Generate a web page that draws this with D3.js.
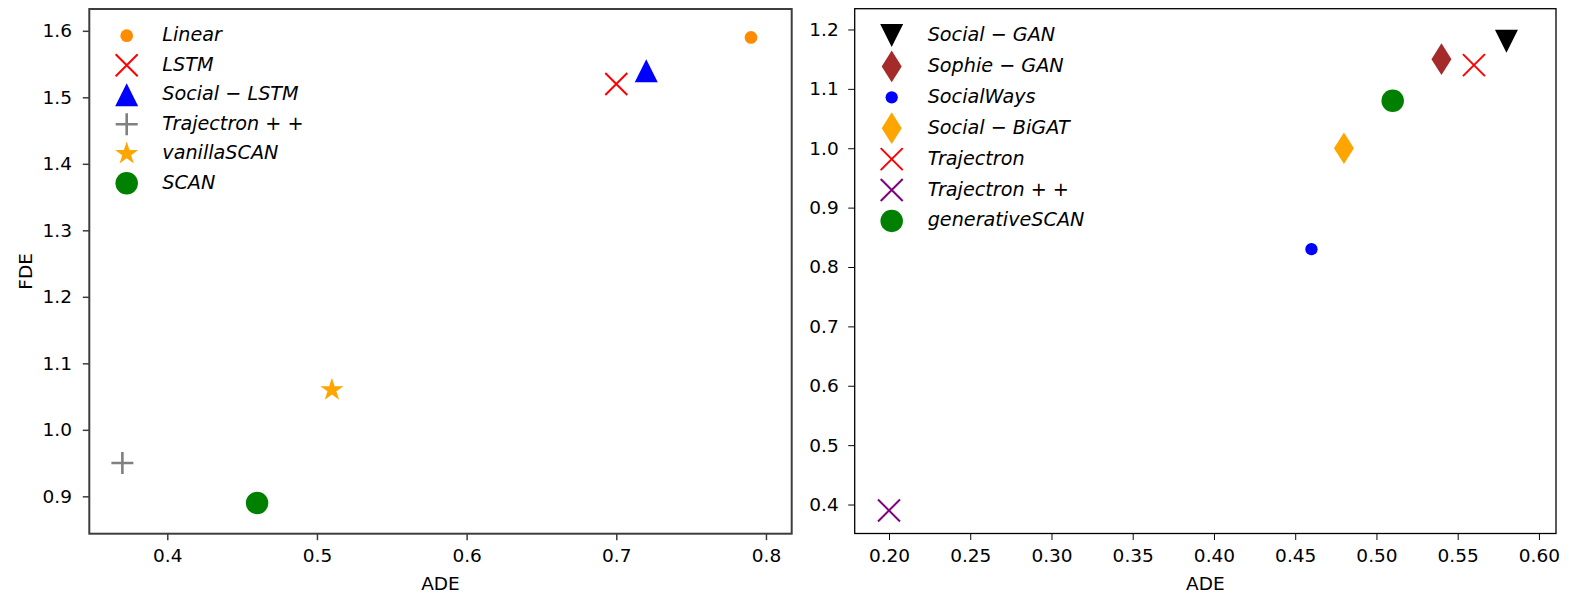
<!DOCTYPE html>
<html><head><meta charset="utf-8">
<script src="https://cdn.jsdelivr.net/npm/d3@7"></script>
<style>
body{margin:0;background:#fff}
svg{display:block}
text{font-family:"DejaVu Sans",sans-serif}
</style>
</head><body>
<svg id="c" width="1590" height="596"></svg>
<script>
// ---------- data ----------
const leftNames = ["Linear", "LSTM", "Social \u2212 LSTM", "Trajectron + +", "vanillaSCAN", "SCAN"];
const leftADE   = [0.79, 0.70, 0.72, 0.37, 0.51, 0.46];
const leftFDE   = [1.59, 1.52, 1.54, 0.95, 1.06, 0.89];

const rightNames = ["Social \u2212 GAN", "Sophie \u2212 GAN", "SocialWays", "Social \u2212 BiGAT", "Trajectron", "Trajectron + +", "generativeSCAN"];
const rightADE   = [0.58, 0.54, 0.46, 0.48, 0.56, 0.20, 0.51];
const rightFDE   = [1.18, 1.15, 0.83, 1.00, 1.14, 0.39, 1.08];

const leftXTicks  = [0.4, 0.5, 0.6, 0.7, 0.8];
const leftYTicks  = [0.9, 1.0, 1.1, 1.2, 1.3, 1.4, 1.5, 1.6];
const rightXTicks = [0.20, 0.25, 0.30, 0.35, 0.40, 0.45, 0.50, 0.55, 0.60];
const rightYTicks = [0.4, 0.5, 0.6, 0.7, 0.8, 0.9, 1.0, 1.1, 1.2];

const xLabel = "ADE";
const yLabel = "FDE";

// ---------- styles ----------
const leftStyles = [
  {shape:"circle",  color:"#ff8c00", w:12.7},
  {shape:"x",       color:"#ff0000", w:22},
  {shape:"triUp",   color:"#0000ff", w:23},
  {shape:"plus",    color:"#808080", w:22},
  {shape:"star",    color:"#ffa500", w:12.2},
  {shape:"circle",  color:"#008000", w:22.5}
];
const rightStyles = [
  {shape:"triDown", color:"#000000", w:23},
  {shape:"diamond", color:"#a52a2a", w:20, h:31.7},
  {shape:"circle",  color:"#0000ff", w:12.3},
  {shape:"diamond", color:"#ffa500", w:20, h:31.7},
  {shape:"x",       color:"#ff0000", w:22},
  {shape:"x",       color:"#800080", w:22},
  {shape:"circle",  color:"#008000", w:22.5}
];

const svg = d3.select("#c");

function drawMarker(g, s, cx, cy) {
  const h = s.w / 2;
  if (s.shape === "circle") {
    g.append("circle").attr("cx", cx).attr("cy", cy).attr("r", h).attr("fill", s.color);
    return;
  }
  let d, stroke = false, sw = 2;
  if (s.shape === "x") { d = `M${-h},${-h}L${h},${h}M${-h},${h}L${h},${-h}`; stroke = true; sw = 2; }
  else if (s.shape === "plus") { d = `M${-h},0L${h},0M0,${-h}L0,${h}`; stroke = true; sw = 2.6; }
  else if (s.shape === "triUp") { d = `M0,${-h}L${h},${h}L${-h},${h}Z`; }
  else if (s.shape === "triDown") { d = `M0,${h}L${h},${-h}L${-h},${-h}Z`; }
  else if (s.shape === "diamond") { const hh = s.h / 2; d = `M0,${-hh}L${h},0L0,${hh}L${-h},0Z`; }
  else if (s.shape === "star") {
    const R = s.w, r = R * 0.381966;
    const pts = [];
    for (let i = 0; i < 10; i++) {
      const a = -Math.PI / 2 + i * Math.PI / 5;
      const rad = i % 2 === 0 ? R : r;
      pts.push([rad * Math.cos(a), rad * Math.sin(a)]);
    }
    d = "M" + pts.map(p => p.join(",")).join("L") + "Z";
  }
  const p = g.append("path").attr("d", d).attr("transform", `translate(${cx},${cy})`);
  if (stroke) p.attr("fill", "none").attr("stroke", s.color).attr("stroke-width", sw);
  else p.attr("fill", s.color);
}

function panel(cfg) {
  const x = d3.scaleLinear().domain(cfg.xDom).range([cfg.left, cfg.right]);
  const y = d3.scaleLinear().domain(cfg.yDom).range([cfg.bottom, cfg.top]);
  const g = svg.append("g");

  // points
  const pg = g.append("g");
  cfg.ade.forEach((v, i) => drawMarker(pg, cfg.styles[i], x(v), y(cfg.fde[i])));

  // axes
  const xa = g.append("g").attr("transform", `translate(0,${cfg.bottom})`)
    .call(d3.axisBottom(x).tickValues(cfg.xTicks).tickFormat(d3.format(cfg.xFmt))
      .tickSizeInner(6.5).tickSizeOuter(0).tickPadding(8.8));
  const ya = g.append("g").attr("transform", `translate(${cfg.left},0)`)
    .call(d3.axisLeft(y).tickValues(cfg.yTicks).tickFormat(d3.format(".1f"))
      .tickSizeInner(6.5).tickSizeOuter(0).tickPadding(cfg.yPad));
  [xa, ya].forEach(a => {
    a.select(".domain").remove();
    a.selectAll("line").attr("stroke", cfg.spine).attr("stroke-width", cfg.spineW * 0.75);
    a.selectAll("text").attr("fill", "#000").style("font-size", "18.5px")
      .style("font-family", "'DejaVu Sans', sans-serif");
  });

  // frame
  g.append("rect").attr("x", cfg.left).attr("y", cfg.top)
    .attr("width", cfg.right - cfg.left).attr("height", cfg.bottom - cfg.top)
    .attr("fill", "none").attr("stroke", cfg.spine).attr("stroke-width", cfg.spineW);

  // x label
  g.append("text").attr("x", (cfg.left + cfg.right) / 2).attr("y", 590)
    .attr("text-anchor", "middle").style("font-size", "18.5px").text(xLabel);
  if (cfg.yLabel) {
    g.append("text").attr("transform", `translate(32,${(cfg.top + cfg.bottom) / 2}) rotate(-90)`)
      .attr("text-anchor", "middle").style("font-size", "18.5px").text(yLabel);
  }

  // legend
  const lg = g.append("g");
  cfg.names.forEach((n, i) => {
    const cy = cfg.legY0 + i * cfg.legDy;
    drawMarker(lg, cfg.styles[i], cfg.legX, cy);
    lg.append("text").attr("x", cfg.legTX).attr("y", cy + 5.5)
      .style("font-size", "19.2px").style("font-style", "italic").text(n);
  });
}

panel({
  left: 89.3, right: 791.7, top: 9, bottom: 533.7,
  xDom: [0.3479, 0.8172], yDom: [0.8438, 1.6328],
  xTicks: leftXTicks, yTicks: leftYTicks, xFmt: ".1f", yPad: 10.8,
  ade: leftADE, fde: leftFDE, styles: leftStyles, names: leftNames,
  spine: "#3d3d3d", spineW: 2, yLabel: true,
  legX: 126.7, legTX: 162.3, legY0: 35.7, legDy: 29.5
});

panel({
  left: 854.7, right: 1556, top: 8.7, bottom: 533.5,
  xDom: [0.1789, 0.6105], yDom: [0.3512, 1.2350],
  xTicks: rightXTicks, yTicks: rightYTicks, xFmt: ".2f", yPad: 9.5,
  ade: rightADE, fde: rightFDE, styles: rightStyles, names: rightNames,
  spine: "#000000", spineW: 1.3, yLabel: false,
  legX: 891.7, legTX: 927.7, legY0: 35.5, legDy: 30.9
});
</script>
</body></html>
